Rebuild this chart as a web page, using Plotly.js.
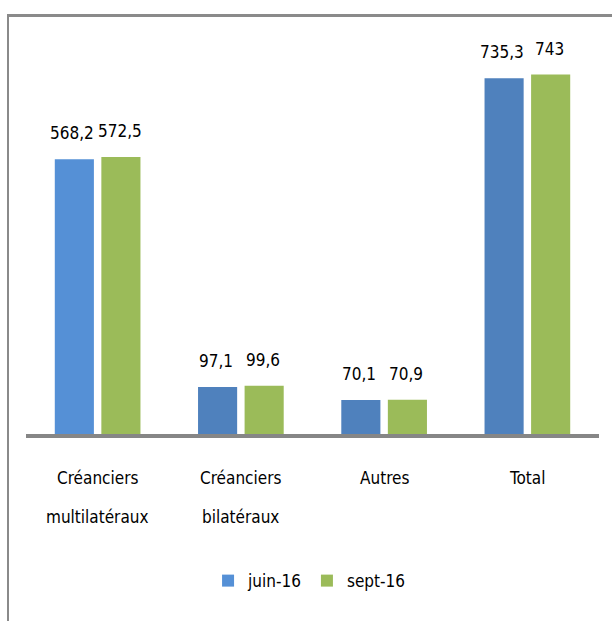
<!DOCTYPE html>
<html>
<head>
<meta charset="utf-8">
<script src="https://cdn.plot.ly/plotly-3.0.1.min.js"></script>
<style>
body{margin:0;background:#fff;}
#cadre{position:absolute;left:7px;top:14px;width:620px;height:620px;border-left:2px solid #8a8a8a;border-top:3px solid #8a8a8a;}
#grafica{position:absolute;left:0;top:0;width:612px;height:621px;}
</style>
</head>
<body>
<div id="cadre"></div>
<div id="grafica"></div>
<script>
// ---------- Données ----------
const categories = ["Créanciers multilatéraux", "Créanciers bilatéraux", "Autres", "Total"];
const ligne1 = ["Créanciers", "Créanciers", "Autres", "Total"];
const ligne2 = ["multilatéraux", "bilatéraux", "", ""];

const juin16 = [568.2, 97.1, 70.1, 735.3];
const sept16 = [572.5, 99.6, 70.9, 743];

const etiquettesJuin = ["568,2", "97,1", "70,1", "735,3"];
const etiquettesSept = ["572,5", "99,6", "70,9", "743"];

// ---------- Style ----------
const police = "Liberation Sans Narrow, DejaVu Sans Condensed, sans-serif";
const bleus = ["#5590d6", "#4f81bd", "#4f81bd", "#4f81bd"];
const vert = "#9bbb59";

const bargap = 0.35;
const largeurCat = 573 / 4;
const decal = largeurCat * (1 - bargap) / 4;

const traces = [
  {
    type: "bar",
    name: "juin-16",
    x: categories,
    y: juin16,
    marker: {color: bleus},
    hoverinfo: "none"
  },
  {
    type: "bar",
    name: "sept-16",
    x: categories,
    y: sept16,
    marker: {color: vert},
    hoverinfo: "none"
  }
];

let annotations = [];

// étiquettes de valeurs
for (let i = 0; i < categories.length; i++) {
  annotations.push({
    x: categories[i], y: juin16[i], xref: "x", yref: "y",
    text: etiquettesJuin[i], showarrow: false,
    xshift: -decal - 2, yshift: 26, yanchor: "middle",
    font: {family: police, size: 17, color: "#000"}
  });
  annotations.push({
    x: categories[i], y: sept16[i], xref: "x", yref: "y",
    text: etiquettesSept[i], showarrow: false,
    xshift: decal - 1, yshift: 26, yanchor: "middle",
    font: {family: police, size: 17, color: "#000"}
  });
}

// libellés des catégories
for (let i = 0; i < categories.length; i++) {
  annotations.push({
    x: categories[i], y: 0, xref: "x", yref: "y",
    text: ligne1[i], showarrow: false,
    yshift: -44, yanchor: "middle",
    font: {family: police, size: 17, color: "#000"}
  });
  if (ligne2[i]) {
    annotations.push({
      x: categories[i], y: 0, xref: "x", yref: "y",
      text: ligne2[i], showarrow: false,
      yshift: -83, yanchor: "middle",
      font: {family: police, size: 17, color: "#000"}
    });
  }
}

const layout = {
  width: 612,
  height: 621,
  margin: {l: 26, r: 13, t: 47, b: 187},
  paper_bgcolor: "rgba(0,0,0,0)",
  plot_bgcolor: "rgba(0,0,0,0)",
  barmode: "group",
  bargap: bargap,
  bargroupgap: 0.16,
  showlegend: true,
  legend: {
    orientation: "h",
    x: 0.494, xanchor: "center",
    y: -0.38, yanchor: "middle",
    font: {family: police, size: 17, color: "#000"}
  },
  xaxis: {
    type: "category",
    range: [-0.5, 3.5],
    showline: true,
    linecolor: "#868686",
    linewidth: 4,
    showticklabels: false,
    ticks: "",
    showgrid: false,
    zeroline: false
  },
  yaxis: {
    range: [0, 800],
    visible: false,
    showgrid: false,
    zeroline: false
  },
  annotations: annotations
};

Plotly.newPlot("grafica", traces, layout, {displayModeBar: false, staticPlot: true});
</script>
</body>
</html>
